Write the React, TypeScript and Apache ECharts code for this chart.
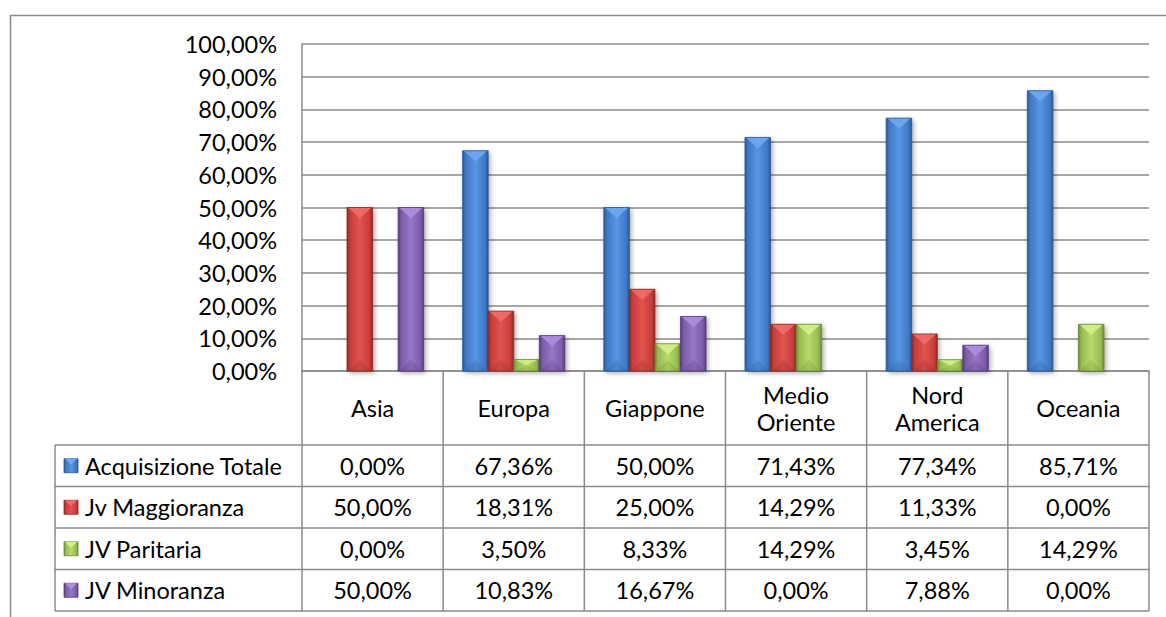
import React, { useEffect, useRef } from 'react';
import * as echarts from 'echarts';

const categories = ['Asia', 'Europa', 'Giappone', 'Medio\nOriente', 'Nord\nAmerica', 'Oceania'];
const seriesNames = ['Acquisizione Totale', 'Jv Maggioranza', 'JV Paritaria', 'JV Minoranza'];
const acquisizioneTotale = [0, 67.36, 50.0, 71.43, 77.34, 85.71];
const jvMaggioranza = [50.0, 18.31, 25.0, 14.29, 11.33, 0];
const jvParitaria = [0, 3.5, 8.33, 14.29, 3.45, 14.29];
const jvMinoranza = [50.0, 10.83, 16.67, 0, 7.88, 0];
const seriesValues = [acquisizioneTotale, jvMaggioranza, jvParitaria, jvMinoranza];
const yMin = 0;
const yMax = 100;
const yStep = 10;

const palette = [
  { base: '#3f78c4', light: '#6fa9f0', dark: '#2a5895', tip: '#5796e4' },
  { base: '#c73d39', light: '#ef6d68', dark: '#8e2724', tip: '#e05450' },
  { base: '#97b954', light: '#d3ef8a', dark: '#6a8a30', tip: '#b9da6a' },
  { base: '#7c5ca6', light: '#ad8ee0', dark: '#553b7e', tip: '#9677c8' },
];

const FONT = 'Lato';
const FS = 23.5;
const GRAY = '#8a8a8a';

const W = 1166;
const H = 617;
const gridLeft = 302;
const gridTop = 44;
const gridRight = 1149;
const gridBottom = 371;
const tableLeft = 55;
const catRowBottom = 445;
const tableBottom = 611;

const fmt = (v: number) => v.toFixed(2).replace('.', ',') + '%';

function barGradient(c: any) {
  return new echarts.graphic.LinearGradient(0, 0, 1, 0, [
    { offset: 0, color: c.dark },
    { offset: 0.12, color: c.base },
    { offset: 0.5, color: c.tip },
    { offset: 0.88, color: c.base },
    { offset: 1, color: c.dark },
  ]);
}

export default function App() {
  const ref = useRef<HTMLDivElement>(null);
  useEffect(() => {
    if (!ref.current) return;
    const chart = echarts.init(ref.current, undefined, { renderer: 'svg' });
    const nCat = categories.length;
    const colW = (gridRight - gridLeft) / nCat;
    const rowH = (tableBottom - catRowBottom) / seriesNames.length;

    const series: any[] = seriesValues.map((vals, si) => ({
      type: 'custom',
      name: seriesNames[si],
      data: vals.map((v, j) => [j, v]),
      encode: { x: 0, y: 1 },
      renderItem: (params: any, api: any) => {
        const cat = api.value(0);
        const val = api.value(1);
        if (!val) return { type: 'group', children: [] };
        const band = api.size([1, 0])[0];
        const bw = band * 0.181;
        const top = api.coord([cat, val]);
        const bottom = api.coord([cat, 0]);
        const x0 = top[0] + (si - 2) * bw;
        const x1 = x0 + bw;
        const y0 = top[1];
        const y1 = bottom[1];
        const h = y1 - y0;
        const bev = Math.min(bw * 0.42, h / 2);
        const c = palette[si];
        return {
          type: 'group',
          children: [
            {
              type: 'rect',
              shape: { x: x0, y: y0, width: bw, height: h },
              style: {
                fill: barGradient(c),
                shadowBlur: 5,
                shadowColor: 'rgba(0,0,0,0.35)',
                shadowOffsetX: 2,
                shadowOffsetY: 2,
              },
            },
            {
              type: 'polygon',
              shape: { points: [[x0 + 1, y0], [x1 - 1, y0], [(x0 + x1) / 2, y0 + bev]] },
              style: { fill: c.light, opacity: 0.9 },
            },
            {
              type: 'polygon',
              shape: { points: [[x0 + 1, y1], [x1 - 1, y1], [(x0 + x1) / 2, y1 - bev]] },
              style: { fill: c.dark, opacity: 0.25 },
            },
            {
              type: 'rect',
              shape: { x: x0, y: y0, width: bw, height: h },
              style: { fill: 'none', stroke: c.dark, lineWidth: 0.8 },
            },
          ],
        };
      },
    }));

    const graphics: any[] = [];
    graphics.push({
      type: 'rect',
      shape: { x: 10.5, y: 15.5, width: W + 20, height: H + 20 },
      style: { fill: 'none', stroke: GRAY, lineWidth: 1.5 },
      silent: true,
    });
    for (let r = 0; r <= seriesNames.length; r++) {
      const y = catRowBottom + r * rowH;
      graphics.push({
        type: 'line',
        shape: { x1: tableLeft, y1: y, x2: gridRight, y2: y },
        style: { stroke: GRAY, lineWidth: 1.5 },
      });
    }
    graphics.push({
      type: 'line',
      shape: { x1: tableLeft, y1: catRowBottom, x2: tableLeft, y2: tableBottom },
      style: { stroke: GRAY, lineWidth: 1.5 },
    });
    for (let j = 0; j <= nCat; j++) {
      const x = gridLeft + j * colW;
      graphics.push({
        type: 'line',
        shape: { x1: x, y1: gridBottom, x2: x, y2: tableBottom },
        style: { stroke: GRAY, lineWidth: 1.5 },
      });
    }
    seriesNames.forEach((name, si) => {
      const cy = catRowBottom + (si + 0.5) * rowH;
      const c = palette[si];
      graphics.push({
        type: 'rect',
        shape: { x: 64, y: cy - 7, width: 14, height: 14 },
        style: { fill: barGradient(c), stroke: c.dark, lineWidth: 0.8 },
      });
      graphics.push({
        type: 'polygon',
        shape: { points: [[65, cy - 7], [77, cy - 7], [71, cy - 1]] },
        style: { fill: c.light },
      });
      graphics.push({
        type: 'text',
        x: 85,
        y: cy,
        style: { text: name, font: `${FS}px ${FONT}`, fill: '#000', verticalAlign: 'middle', align: 'left' },
      });
      seriesValues[si].forEach((v, j) => {
        graphics.push({
          type: 'text',
          x: gridLeft + (j + 0.5) * colW,
          y: cy,
          style: { text: fmt(v), font: `${FS}px ${FONT}`, fill: '#000', verticalAlign: 'middle', align: 'center' },
        });
      });
    });

    chart.setOption({
      animation: false,
      grid: {
        left: gridLeft,
        top: gridTop,
        right: W - gridRight,
        bottom: H - gridBottom,
        containLabel: false,
      },
      xAxis: {
        type: 'category',
        data: categories,
        boundaryGap: true,
        axisLine: { show: true, lineStyle: { color: GRAY, width: 1.5 } },
        axisTick: { show: false },
        splitLine: { show: false },
        axisLabel: {
          interval: 0,
          margin: 37,
          verticalAlign: 'middle',
          fontFamily: FONT,
          fontSize: FS,
          lineHeight: 27,
          color: '#000',
        },
      },
      yAxis: {
        type: 'value',
        min: yMin,
        max: yMax,
        interval: yStep,
        axisLine: { show: true, lineStyle: { color: GRAY, width: 1.5 } },
        axisTick: { show: false },
        splitLine: { show: true, lineStyle: { color: GRAY, width: 1.5 } },
        axisLabel: {
          formatter: (v: number) => fmt(v),
          margin: 25,
          fontFamily: FONT,
          fontSize: FS,
          color: '#000',
        },
      },
      series,
      graphic: graphics,
    });
    return () => chart.dispose();
  }, []);
  return (
    <div
      ref={ref}
      style={{ position: 'fixed', left: 0, top: 0, width: W, height: H, background: '#fff' }}
    />
  );
}
